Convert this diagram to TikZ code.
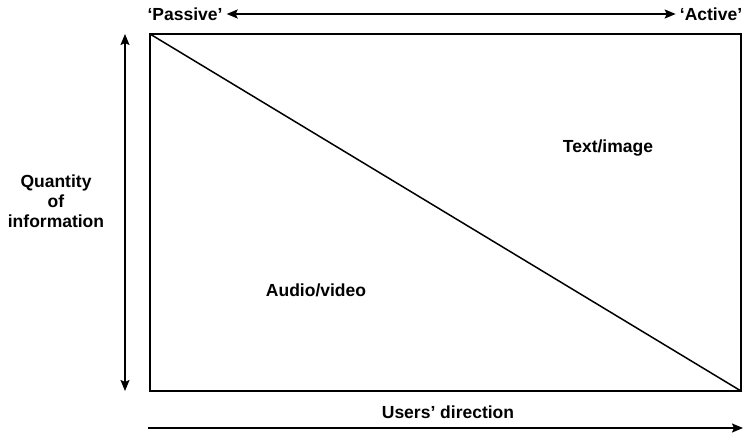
\documentclass[tikz,border=0pt]{standalone}
\usepackage{fontspec}
\setmainfont{Liberation Sans}
\usetikzlibrary{arrows.meta}

\begin{document}
\begin{tikzpicture}[
   x=1pt, y=-1pt,
   lbl/.style={font=\bfseries\fontsize{17.5}{20}\selectfont, inner sep=0pt},
   axis/.style={line width=1.6, -{Stealth[length=11, width=9, inset=2]}},
   axisboth/.style={line width=1.6, {Stealth[length=11, width=9, inset=2]}-{Stealth[length=11, width=9, inset=2]}},
   frame/.style={line width=1.8}
  ]

  \useasboundingbox (0, 0) rectangle (743, 435);

  % Box and diagonal
  \coordinate (TL) at (150, 34);
  \coordinate (BR) at (741, 391);
  \draw[frame] (TL) rectangle (BR);
  \draw[line width=1.5] (TL) -- (BR);

  % Labels
  \node (Passive) at (185, 14) [lbl] {‘Passive’};
  \node (Active) at (711, 14) [lbl] {‘Active’};
  \node (Quantity) at (56, 201) [lbl, align=center] {Quantity\\of\\information};
  \node (Text) at (608, 148) [lbl] {Text/image};
  \node (Audio) at (316, 290) [lbl] {Audio/video};
  \node (Users) at (448, 412) [lbl] {Users’ direction};

  % Axes
  \coordinate (V1) at (125, 34);
  \coordinate (V2) at (125, 391);
  \coordinate (H1) at (148, 428);
  \coordinate (H2) at (743, 428);
  \draw[axisboth] ([xshift=4]Passive.east) -- ([xshift=-4]Active.west);
  \draw[axisboth] (V1) -- (V2);
  \draw[axis] (H1) -- (H2);
\end{tikzpicture}
\end{document}
